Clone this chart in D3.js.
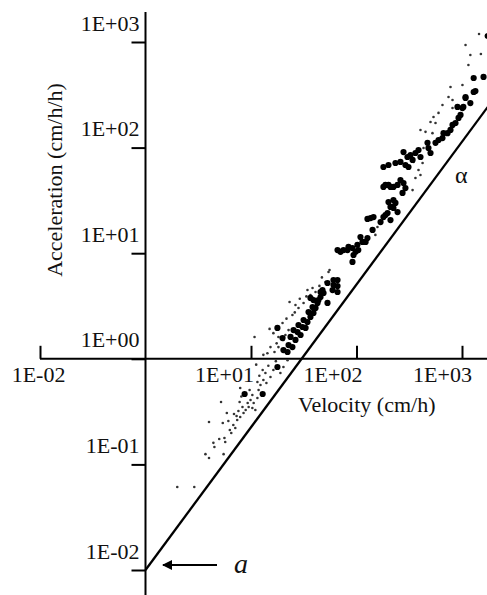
<!DOCTYPE html>
<html>
<head>
<meta charset="utf-8">
<script src="https://cdn.jsdelivr.net/npm/d3@7"></script>
<style>
  html, body { margin: 0; padding: 0; background: #fff; }
  svg text { font-family: "Liberation Serif", "Times New Roman", Times, "DejaVu Serif", "Noto Serif", serif; fill: #111; }
</style>
</head>
<body>
<div id="chart"></div>
<script>
// [velocity cm/h, acceleration cm/h/h]
const smallPoints = [
  [2.0, 0.061], [2.9, 0.061], [3.7, 0.125], [4.0, 0.115], [5.5, 0.125], [4.4, 0.16], [4.5, 0.146],
  [5.0, 0.174], [5.7, 0.163], [5.6, 0.178], [4.0, 0.252], [5.4, 0.247], [5.9, 0.307], [6.1, 0.258],
  [6.5, 0.198], [6.3, 0.212], [6.8, 0.236], [7.1, 0.221], [7.4, 0.263], [7.9, 0.281], [7.3, 0.287],
  [7.6, 0.32], [5.2, 0.39], [7.8, 0.39], [8.3, 0.35], [8.5, 0.307], [8.9, 0.327], [9.3, 0.381],
  [9.5, 0.35], [9.9, 0.407], [10.6, 0.381], [11.0, 0.327], [10.3, 0.342], [7.9, 0.529], [9.7, 0.507],
  [10.3, 0.454], [11.5, 0.426], [11.8, 0.507], [12.3, 0.565], [13.1, 0.63], [14.0, 0.59], [11.5, 0.603],
  [12.9, 0.784], [13.7, 0.734], [15.3, 0.673], [16.3, 0.784], [19.0, 0.734], [20.3, 0.836], [22.2, 0.97],
  [10.8, 1.61], [15.0, 1.92], [16.3, 1.75], [18.2, 1.61], [19.9, 2.18], [23.2, 3.45], [24.7, 2.6],
  [28.2, 3.03], [26.4, 3.23], [31.5, 3.38], [34.3, 4.48], [36.6, 4.02], [40.9, 4.29], [38.3, 4.68],
  [50.8, 5.34], [15.3, 1.29], [16.7, 1.16], [14.3, 1.13], [13.1, 1.09], [18.2, 1.29], [20.3, 1.51],
  [21.2, 1.68], [22.7, 1.87], [54.3, 6.64], [55.5, 6.94],
  [6.9, 0.3], [8.1, 0.44], [12.0, 0.69], [14.6, 0.86], [17.2, 0.95], [11.2, 0.88], [17.5, 1.4],
  [21.7, 2.4], [26.0, 2.75], [29.0, 3.7], [33.5, 3.9], [44.5, 4.9], [47.0, 5.9],
  [151, 14.9], [158, 17.7],
  [404, 147], [537, 195], [653, 253], [745, 301], [813, 237], [599, 213], [561, 171], [503, 175],
  [525, 137], [451, 141], [432, 99], [347, 73.1], [387, 61.4], [423, 71.5], [362, 51.5], [340, 39.6],
  [404, 55.0],
  [1450, 1190], [1080, 938], [1200, 753], [1510, 770], [1150, 606], [778, 375], [1010, 392], [813, 282]
];

const largePoints = [
  [8.7, 0.464], [12.9, 0.464], [17.8, 0.836],
  [17.8, 1.96], [19.9, 1.57], [20.3, 1.21], [22.2, 1.16], [22.7, 1.35], [24.7, 1.29], [23.7, 1.61],
  [26.4, 1.51], [25.3, 1.87], [27.6, 1.79], [29.5, 1.68], [28.2, 2.09], [30.8, 2.0], [32.9, 1.96],
  [31.5, 2.33], [34.3, 2.23], [36.6, 2.49], [35.1, 2.77], [39.1, 2.72], [38.3, 3.09], [40.9, 3.03],
  [42.7, 3.38], [39.1, 3.6], [43.6, 3.6], [45.6, 3.85], [36.6, 3.77], [48.7, 4.2], [47.6, 4.48],
  [45.6, 4.29], [53.1, 3.38], [53.1, 5.22], [60.5, 5.57], [66.1, 5.57], [60.5, 5.0], [66.1, 4.89],
  [59.3, 4.48], [66.1, 4.29],
  [66.1, 10.7], [70.5, 10.3], [75.3, 10.7], [82.2, 10.7], [84, 11.5], [91.6, 11.2], [98, 10.3],
  [104, 10.7], [102, 12.0], [93.7, 9.61], [91.6, 8.26],
  [109, 14.2], [114, 12.8], [122, 12.8], [127, 13.9],
  [127, 21.1], [136, 21.5], [145, 22.0], [142, 16.6],
  [169, 19.7], [180, 22.0], [197, 24.0], [210, 20.6], [201, 30.5], [219, 27.4], [234, 29.9],
  [245, 24.5], [188, 23.0], [224, 26.8],
  [180, 42.4], [188, 44.3], [201, 44.3], [210, 42.4], [224, 42.4], [245, 44.3], [261, 49.3],
  [279, 46.2], [291, 41.4], [273, 37.2], [224, 31.9], [210, 27.4],
  [180, 65.5], [201, 68.4], [234, 71.5], [261, 73.1], [279, 90.8], [304, 81.5], [325, 85.1],
  [340, 76.4], [291, 68.4], [311, 65.5], [362, 88.9], [387, 94.9], [404, 81.5], [471, 111],
  [481, 99], [503, 88.9], [561, 111], [599, 118], [653, 123], [668, 137], [729, 137], [778, 147],
  [813, 164], [868, 171], [927, 191], [968, 204], [1010, 237], [1080, 295], [1200, 264], [1290, 336],
  [1290, 456], [1600, 467], [1340, 343], [1080, 301], [1030, 243], [906, 243], [1750, 1140]
];

// fitted power law a = 0.01 * v^1.35
const alphaLine = [[1, 0.01], [1750, 242]];

const xTicks = [0.1, 10, 100, 1000];
const xTickLabels = ['1E-02', '1E+01', '1E+02', '1E+03'];
const yTicks = [1000, 100, 10, 1, 0.1, 0.01];
const yTickLabels = ['1E+03', '1E+02', '1E+01', '1E+00', '1E-01', '1E-02'];

const width = 487, height = 595;
const fontSize = 22;
const serif = '"Liberation Serif", "Times New Roman", Times, "DejaVu Serif", serif';

const svg = d3.select('#chart').append('svg')
  .attr('width', width)
  .attr('height', height)
  .attr('font-family', serif);

const x = d3.scaleLog().domain([0.1, 1000]).range([40, 462]);
const y = d3.scaleLog().domain([0.01, 1000]).range([570, 42]);

const x0 = x(1), y0 = y(1);

// axis lines
svg.append('line')
  .attr('x1', x0).attr('x2', x0)
  .attr('y1', 12).attr('y2', height)
  .attr('stroke', '#000').attr('stroke-width', 2);

svg.append('line')
  .attr('x1', x(0.1)).attr('x2', width)
  .attr('y1', y0).attr('y2', y0)
  .attr('stroke', '#000').attr('stroke-width', 2);

// y ticks
const yAxis = svg.append('g')
  .attr('transform', `translate(${x0},0)`)
  .call(d3.axisLeft(y).tickValues(yTicks)
    .tickFormat((d, i) => yTickLabels[i])
    .tickSize(14).tickSizeOuter(0));
yAxis.attr('font-family', null).attr('font-size', fontSize);
yAxis.select('.domain').remove();
yAxis.selectAll('.tick line').attr('stroke', '#000').attr('stroke-width', 2);
yAxis.selectAll('.tick text')
  .attr('x', -6).attr('y', -12).attr('dy', null)
  .attr('text-anchor', 'end')
  .attr('fill', '#111');

// x ticks, pointing up, labels below
const xLabelShift = [-2, -27, -24, -20];
const xAxis = svg.append('g')
  .attr('transform', `translate(0,${y0})`)
  .call(d3.axisTop(x).tickValues(xTicks)
    .tickFormat((d, i) => xTickLabels[i])
    .tickSize(13).tickSizeOuter(0));
xAxis.attr('font-family', null).attr('font-size', fontSize);
xAxis.select('.domain').remove();
xAxis.selectAll('.tick line').attr('stroke', '#000').attr('stroke-width', 2);
xAxis.selectAll('.tick text')
  .attr('y', 23).attr('dy', null)
  .attr('dx', (d, i) => xLabelShift[i])
  .attr('text-anchor', 'middle')
  .attr('fill', '#111');

// axis titles
svg.append('text')
  .attr('transform', `translate(62,180) rotate(-90)`)
  .attr('text-anchor', 'middle')
  .attr('font-size', fontSize)
  .text('Acceleration (cm/h/h)');

svg.append('text')
  .attr('x', 298).attr('y', 412)
  .attr('font-size', fontSize)
  .text('Velocity (cm/h)');

// power law line
const line = d3.line()
  .x(d => x(d[0]))
  .y(d => y(d[1]));

svg.append('path')
  .datum(alphaLine)
  .attr('d', line)
  .attr('fill', 'none')
  .attr('stroke', '#000')
  .attr('stroke-width', 2.3);

// points
svg.append('g').selectAll('circle')
  .data(smallPoints)
  .enter().append('circle')
  .attr('cx', d => x(d[0]))
  .attr('cy', d => y(d[1]))
  .attr('r', 1.3)
  .attr('fill', '#333');

svg.append('g').selectAll('circle')
  .data(largePoints)
  .enter().append('circle')
  .attr('cx', d => x(d[0]))
  .attr('cy', d => y(d[1]))
  .attr('r', 3.1)
  .attr('fill', '#000');

// annotations
svg.append('text')
  .attr('x', 455).attr('y', 183)
  .attr('font-size', 24)
  .text('α');

const arrowY = y(0.01) - 5;
svg.append('defs').append('marker')
  .attr('id', 'head')
  .attr('viewBox', '0 0 10 10')
  .attr('refX', 9).attr('refY', 5)
  .attr('markerWidth', 5).attr('markerHeight', 5)
  .attr('orient', 'auto')
  .append('path')
  .attr('d', 'M0,0 L10,5 L0,10 Z')
  .attr('fill', '#000');

svg.append('line')
  .attr('x1', 217).attr('x2', 163)
  .attr('y1', arrowY).attr('y2', arrowY)
  .attr('stroke', '#000').attr('stroke-width', 2)
  .attr('marker-end', 'url(#head)');

svg.append('text')
  .attr('x', 234).attr('y', 573)
  .attr('font-size', 28)
  .attr('font-style', 'italic')
  .text('a');
</script>
</body>
</html>
